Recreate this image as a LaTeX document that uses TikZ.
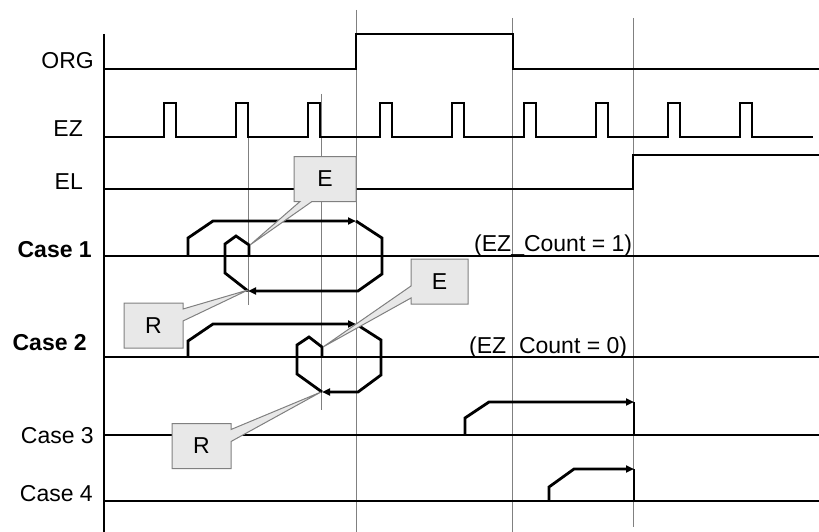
\documentclass[tikz,border=0pt]{standalone}
\usepackage{fontspec}
\setmainfont{Liberation Sans}
\usepackage{tikz}
\usetikzlibrary{arrows.meta, positioning, shapes.callouts}

\begin{document}
\begin{tikzpicture}[x=1pt, y=-1pt,
    every node/.style={font=\fontsize{23}{27}\selectfont, inner sep=0pt},
    lbl/.style={anchor=base east},
    sig/.style={line width=1.5pt},
    guide/.style={line width=1pt, black!50},
    move/.style={line width=2.8pt},
    tip/.style={-{Triangle[length=8pt, width=7pt]}},
    note/.style={rectangle callout, draw=black!50, fill=black!9, line width=1pt,
        minimum width=59pt, minimum height=45pt, callout pointer width=12pt}]
    \useasboundingbox (0,0) rectangle (819,532);

    \foreach \x/\a/\b in {356/10/532, 512/18/532, 633/18/527, 248/137/305, 321/94/410}
        \draw[guide] (\x,\a) -- (\x,\b);

    \node[lbl] (org) at (94,69) {ORG};
    \node[lbl] (ez) at (83,137) {EZ};
    \node[lbl] (el) at (83,189) {EL};
    \node[lbl, font=\fontsize{23}{27}\selectfont\bfseries] (c1) at (92,257) {Case 1};
    \node[lbl, font=\fontsize{23}{27}\selectfont\bfseries] (c2) at (87,350) {Case 2};
    \node[lbl] (c3) at (94,443) {Case 3};
    \node[lbl] (c4) at (93,501) {Case 4};

    \draw[sig] (104,34) -- (104,532);
    \draw[sig] (104,69) -- (356,69) -- (356,34) -- (513,34) -- (513,69) -- (819,69);
    \draw[sig] (104,137) \foreach \x in {164,236,...,740} { -- (\x,137) -- (\x,103) -- ++(12,0) -- ++(0,34) } -- (813,137);
    \draw[sig] (104,189) -- (633,189) -- (633,155) -- (819,155);
    \foreach \y in {256,357,435,501}
        \draw[sig] (104,\y) -- (819,\y);

    \node[anchor=base west] (n1) at (474,251) {(EZ\_Count = 1)};
    \node[anchor=base west] (n0) at (469,353) {(EZ\_Count = 0)};

    \draw[move, tip] (188,256) -- (188,238) -- (213,221) -- (356,221);
    \draw[move, tip] (356,221) -- (382,238) -- (382,274) -- (358,291) -- (248,291);
    \draw[move] (248,291) -- (225,273) -- (225,244) -- (236,236) -- (249,245) -- (249,256);

    \draw[move, tip] (188,357) -- (188,341) -- (213,324) -- (356,324);
    \draw[move, tip] (356,324) -- (381,340) -- (381,375) -- (358,392) -- (322,392);
    \draw[move] (322,392) -- (297,374) -- (297,345) -- (309,337) -- (322,347) -- (322,357);

    \draw[move, tip] (465,435) -- (465,418) -- (489,402) -- (634,402);
    \draw[move] (634,402) -- (634,435);
    \draw[move, tip] (549,501) -- (549,487) -- (574,469) -- (634,469);
    \draw[move] (634,469) -- (634,501);

    \coordinate (e1t) at (250,245);
    \coordinate (r1t) at (248,290);
    \coordinate (e2t) at (323,347);
    \coordinate (r2t) at (321,392);
    \node[note, minimum width=62pt, callout absolute pointer={(e1t)}] (e1) at (325,179) {E};
    \node[note, callout absolute pointer={(r1t)}] (r1) at (153.5,325.5) {R};
    \node[note, minimum width=57pt, callout absolute pointer={(e2t)}] (e2) at (439.5,281.5) {E};
    \node[note, callout absolute pointer={(r2t)}] (r2) at (201.5,446) {R};
\end{tikzpicture}
\end{document}
